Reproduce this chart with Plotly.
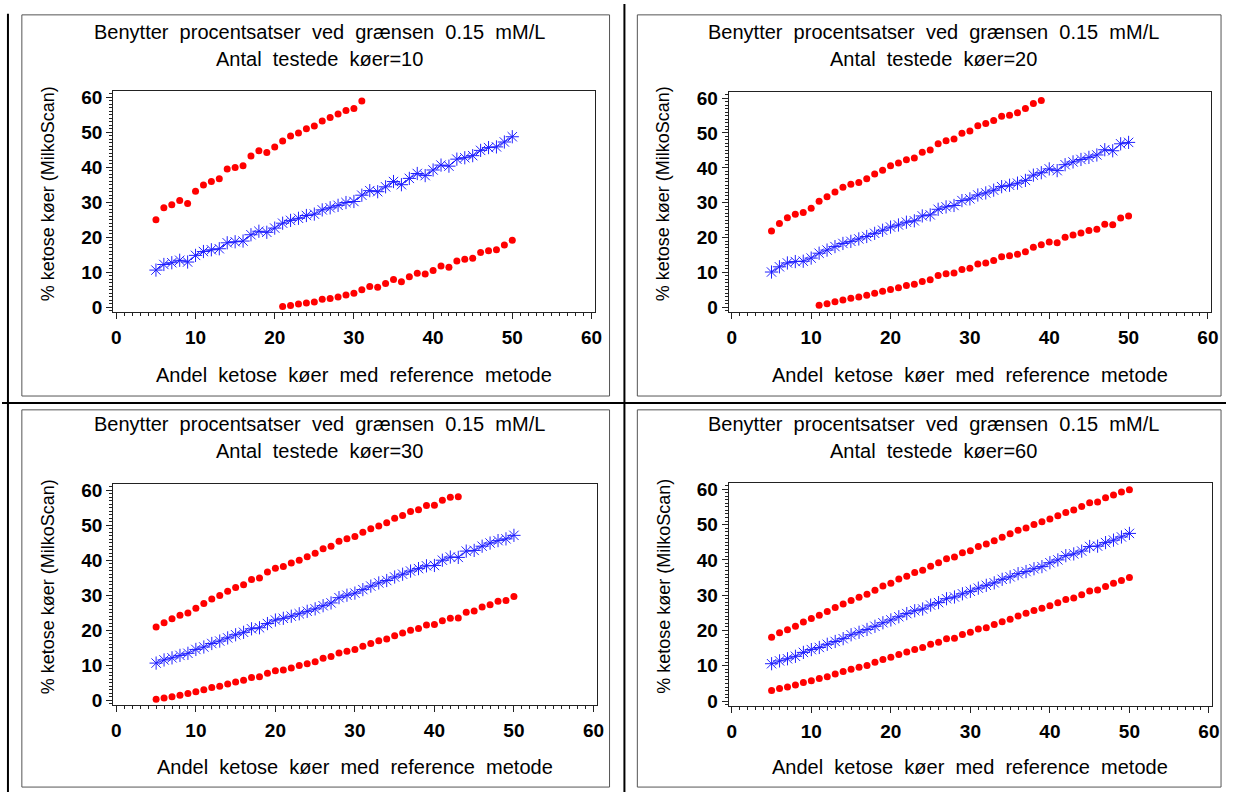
import plotly.graph_objects as go

# ---------------- data ----------------
x_all = list(range(5, 51))          # reference-method share (5..50)

# Panel 1: Antal testede køer = 10
p1_mid = [10.6, 12.2, 12.7, 13.4, 12.9, 14.8, 15.9, 16.4, 16.7, 18.4, 18.7, 18.9, 20.7, 21.7, 21.4, 22.6,
          24.0, 24.8, 25.4, 26.2, 26.6, 27.8, 28.4, 29.1, 29.9, 30.2, 32.0, 33.3, 33.0, 34.4, 35.9, 35.0,
          36.8, 38.2, 37.6, 39.2, 40.6, 40.3, 42.3, 42.7, 43.3, 44.8, 45.6, 45.8, 47.2, 48.7]
p1_up_x = list(range(5, 32))
p1_up = [25.0, 28.4, 29.3, 30.5, 29.6, 33.1, 34.9, 35.9, 36.7, 39.5, 39.9, 40.4, 43.2, 44.7, 44.2, 45.8,
         47.5, 48.9, 49.8, 51.0, 51.8, 53.2, 54.2, 55.2, 56.2, 56.8, 58.9]
p1_lo_x = list(range(21, 51))
p1_lo = [0.2, 0.5, 0.9, 1.2, 1.5, 2.3, 2.5, 2.9, 3.5, 4.0, 5.0, 5.9, 5.7, 6.8, 7.9, 7.3, 8.7, 9.7, 9.5,
         10.5, 11.8, 11.4, 13.2, 13.7, 14.0, 15.6, 16.1, 16.4, 17.8, 19.1]

# Panel 2: Antal testede køer = 20
p2_mid = [10.1, 11.6, 12.7, 13.1, 13.2, 14.1, 15.5, 16.4, 17.4, 18.3, 18.9, 19.6, 20.3, 21.2, 22.1, 23.0,
          23.6, 24.4, 24.8, 26.2, 26.5, 28.1, 28.8, 29.2, 30.6, 31.1, 32.2, 32.8, 33.6, 34.6, 35.0, 35.6,
          36.4, 37.9, 38.6, 39.7, 39.2, 40.9, 41.7, 42.4, 43.0, 43.7, 45.2, 44.9, 46.9, 47.3]
p2_up_x = list(range(5, 40))
p2_up = [21.9, 24.0, 25.7, 26.7, 27.2, 28.4, 30.4, 31.7, 33.1, 34.4, 35.3, 35.8, 36.9, 38.2, 39.3, 40.6,
         41.4, 42.3, 42.8, 44.5, 45.1, 46.9, 47.8, 48.3, 49.9, 50.6, 52.1, 52.7, 53.6, 54.8, 55.1, 55.8,
         57.0, 58.5, 59.3]
p2_lo_x = list(range(11, 51))
p2_lo = [0.55, 1.0, 1.6, 2.1, 2.6, 2.9, 3.4, 4.0, 4.6, 5.1, 5.6, 6.2, 6.6, 7.4, 7.9, 9.1, 9.6, 9.8, 10.8,
         11.2, 12.4, 12.7, 13.4, 14.5, 14.8, 15.2, 15.9, 17.2, 17.9, 18.7, 18.5, 20.1, 20.7, 21.3, 22.0,
         22.4, 23.8, 23.7, 25.6, 26.2]

# Panel 3: Antal testede køer = 30
p3_mid = [10.6, 11.5, 12.1, 12.8, 13.4, 14.5, 15.2, 16.2, 16.9, 17.8, 18.7, 19.4, 20.4, 20.7, 21.9, 22.9,
          23.4, 24.0, 24.7, 25.4, 26.1, 27.0, 27.8, 29.3, 30.0, 30.6, 31.6, 32.6, 33.5, 34.2, 35.2, 36.0,
          36.9, 37.6, 38.4, 38.5, 40.0, 40.9, 40.8, 42.6, 42.8, 44.0, 44.9, 45.6, 46.1, 47.1]
p3_up_x = list(range(5, 44))
p3_up = [20.9, 22.1, 23.3, 24.3, 24.9, 26.3, 27.6, 28.9, 29.9, 31.1, 32.2, 33.0, 34.5, 34.9, 36.6, 37.7,
         38.2, 39.2, 40.0, 41.0, 42.0, 43.3, 44.0, 45.4, 46.1, 46.8, 48.0, 49.0, 49.8, 50.7, 52.0, 52.8,
         53.9, 54.4, 55.6, 55.7, 57.1, 58.0, 58.1]
p3_lo_x = list(range(5, 51))
p3_lo = [0.3, 0.65, 1.0, 1.4, 1.9, 2.4, 3.0, 3.6, 4.0, 4.6, 5.2, 5.7, 6.5, 6.7, 7.7, 8.4, 8.6, 9.2, 9.9,
         10.4, 11.0, 12.0, 12.5, 13.5, 14.0, 14.5, 15.4, 16.2, 17.0, 17.5, 18.4, 19.2, 20.0, 20.5, 21.5,
         21.6, 22.7, 23.4, 23.5, 25.1, 25.5, 26.6, 27.3, 28.3, 28.5, 29.6]

# Panel 4: Antal testede køer = 60
p4_mid = [10.6, 11.4, 12.0, 12.7, 13.8, 14.6, 15.2, 16.1, 16.9, 17.7, 18.8, 19.5, 20.3, 21.2, 22.2, 23.0,
          23.9, 24.8, 25.6, 26.1, 27.2, 27.9, 29.0, 29.5, 30.4, 31.1, 32.0, 32.8, 33.5, 34.5, 35.2, 36.1,
          36.7, 37.5, 38.1, 39.2, 40.0, 41.2, 41.7, 42.5, 43.8, 43.9, 44.9, 45.6, 46.5, 47.5]
p4_up_x = list(range(5, 51))
p4_up = [18.1, 19.4, 20.2, 21.2, 22.4, 23.4, 24.3, 25.4, 26.5, 27.5, 28.5, 29.4, 30.3, 31.4, 32.6, 33.4,
         34.6, 35.4, 36.4, 37.1, 38.2, 39.2, 40.3, 40.8, 42.0, 42.6, 43.8, 44.5, 45.4, 46.4, 47.4, 48.4,
         49.0, 50.0, 50.8, 51.6, 52.5, 53.4, 54.1, 55.1, 56.2, 56.4, 57.6, 58.4, 59.2, 59.9]
p4_lo_x = list(range(5, 51))
p4_lo = [3.0, 3.6, 4.0, 4.6, 5.3, 5.8, 6.4, 6.9, 7.7, 8.4, 9.0, 9.6, 10.1, 11.0, 11.8, 12.4, 13.2, 13.9,
         14.6, 15.2, 16.1, 16.7, 17.7, 17.8, 18.9, 19.5, 20.4, 20.8, 21.7, 22.5, 23.2, 24.1, 24.9, 25.7,
         26.3, 27.0, 27.9, 28.8, 29.2, 30.1, 31.2, 31.5, 32.5, 33.4, 34.2, 35.0]

n_cows = [10, 20, 30, 60]
tick_vals = [0, 10, 20, 30, 40, 50, 60]
tick_text = ["0", "10", "20", "30", "40", "50", "60"]

SP = "\u00a0\u00a0"
title_line1 = SP.join(["Benytter", "procentsatser", "ved", "grænsen", "0.15", "mM/L"])
title_line2 = SP.join(["Antal", "testede", "køer={}"])
x_title = SP.join(["Andel", "ketose", "køer", "med", "reference", "metode"])
y_title = " ".join(["%", "ketose", "køer", "(MilkoScan)"])

panels = [
    (x_all, p1_mid, p1_up_x, p1_up, p1_lo_x, p1_lo),
    (x_all, p2_mid, p2_up_x, p2_up, p2_lo_x, p2_lo),
    (x_all, p3_mid, p3_up_x, p3_up, p3_lo_x, p3_lo),
    (x_all, p4_mid, p4_up_x, p4_up, p4_lo_x, p4_lo),
]

# ---------------- layout geometry (pixels) ----------------
W, H = 1233, 798
FONT = "Liberation Sans, Arial, Helvetica, sans-serif"
# plot areas: (left, right, top, bottom)
areas = [(112, 597, 88, 312), (732, 1218, 89, 312), (112, 599, 486, 710), (732, 1219, 485, 711)]
boxes = [(20, 612, 11, 397), (640, 1228, 11, 397), (20, 612, 411, 793), (640, 1228, 411, 793)]


def px(x):
    return x / W


def py(y):
    return 1 - y / H


fig = go.Figure()
RED = "#ff0000"
BLUE = "#2020ff"

for i, (xm, ym, xu, yu, xl, yl) in enumerate(panels):
    ax = "" if i == 0 else str(i + 1)
    fig.add_trace(go.Scatter(x=xu, y=yu, mode="markers", xaxis="x" + ax, yaxis="y" + ax,
                             marker=dict(color=RED, size=7, line=dict(width=0)), showlegend=False))
    fig.add_trace(go.Scatter(x=xl, y=yl, mode="markers", xaxis="x" + ax, yaxis="y" + ax,
                             marker=dict(color=RED, size=7, line=dict(width=0)), showlegend=False))
    fig.add_trace(go.Scatter(x=xm, y=ym, mode="lines+markers", xaxis="x" + ax, yaxis="y" + ax,
                             line=dict(color=BLUE, width=1),
                             marker=dict(symbol="asterisk-open", size=11, color=BLUE,
                                         line=dict(color=BLUE, width=1)),
                             showlegend=False))

layout = dict(width=W, height=H, margin=dict(l=0, r=0, t=0, b=0), autosize=False,
              paper_bgcolor="white", plot_bgcolor="white", showlegend=False,
              font=dict(family=FONT, size=20, color="black"))

annotations = []
shapes = []
for i, (l, r, t, b) in enumerate(areas):
    ax = "" if i == 0 else str(i + 1)
    common = dict(showgrid=False, zeroline=False, showline=True, linecolor="#222222", linewidth=1,
                  mirror=True, ticks="outside", ticklen=6, tickwidth=1, tickcolor="#222222",
                  tickfont=dict(family=FONT, size=19, color="black", weight="bold"),
                  tickvals=tick_vals, ticktext=tick_text,
                  minor=dict(ticks="outside", ticklen=3, dtick=1, tickcolor="#222222", tickwidth=1))
    layout["xaxis" + ax] = dict(common, domain=[px(l), px(r)], range=[-0.4, 60.4],
                                anchor="y" + ax, ticklabelstandoff=2)
    layout["yaxis" + ax] = dict(common, domain=[py(b), py(t)], range=[-1.4, 61.8],
                                anchor="x" + ax, ticklabelstandoff=0)
    bl, br, bt, bb = boxes[i]
    cx = (bl + br) / 2 + 4
    pcx = (l + r) / 2
    pcy = (t + b) / 2
    dy = 0 if i < 2 else 397
    annotations.append(dict(text=title_line1, x=px(cx), y=py(28 + dy), xref="paper", yref="paper",
                            showarrow=False, xanchor="center", yanchor="middle",
                            font=dict(family=FONT, size=20)))
    annotations.append(dict(text=title_line2.format(n_cows[i]), x=px(cx), y=py(56 + dy), xref="paper",
                            yref="paper", showarrow=False, xanchor="center", yanchor="middle",
                            font=dict(family=FONT, size=20)))
    annotations.append(dict(text=x_title, x=px(pcx), y=py(376 + dy), xref="paper", yref="paper",
                            showarrow=False, xanchor="center", yanchor="middle",
                            font=dict(family=FONT, size=20)))
    annotations.append(dict(text=y_title, x=px(bl + 26), y=py(pcy - 8), xref="paper", yref="paper",
                            showarrow=False, xanchor="center", yanchor="middle", textangle=-90,
                            font=dict(family=FONT, size=18)))
    shapes.append(dict(type="rect", xref="paper", yref="paper", x0=px(bl), x1=px(br), y0=py(bb), y1=py(bt),
                       line=dict(color="#555555", width=1)))

# outer frame lines
shapes.append(dict(type="line", xref="paper", yref="paper", x0=px(627), x1=px(627), y0=0, y1=1,
                   line=dict(color="black", width=2)))
shapes.append(dict(type="line", xref="paper", yref="paper", x0=0, x1=1, y0=py(404), y1=py(404),
                   line=dict(color="black", width=2)))
shapes.append(dict(type="line", xref="paper", yref="paper", x0=px(6), x1=px(6), y0=0, y1=py(10),
                   line=dict(color="black", width=2)))

layout["annotations"] = annotations
layout["shapes"] = shapes
fig.update_layout(**layout)

fig.write_html("out.html", config={"displayModeBar": False},
               post_script="document.body.style.margin='0';document.body.style.overflow='hidden';")
